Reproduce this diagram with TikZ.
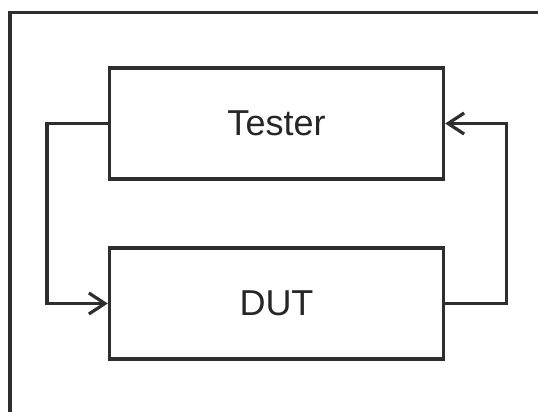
\documentclass[tikz,border=0pt]{standalone}
\usepackage{fontspec}
\setmainfont{Liberation Sans}
\usetikzlibrary{arrows.meta,positioning}

\begin{document}
\begin{tikzpicture}
  [x=1pt,y=-1pt,node distance=180pt,on grid,
  >={Straight Barb[length=16pt,width=21pt,line width=3.2pt]},
  wire/.style={draw=black!82,line width=3.4pt},
  block/.style={wire,rectangle,minimum width=334pt,minimum height=111pt,
    inner sep=0pt,text=black!85,font=\fontsize{36}{40}\selectfont}]
  \useasboundingbox (0,0) rectangle (538,412);

  % open frame, top and left edge only
  \coordinate (fr) at (538,12.5);
  \coordinate (fl) at (10,412);
  \draw [wire] (fr) -| (fl);

  \node [block] (tester) at (276.5,123.5) {Tester};
  \node [block] (dut) [below=of tester] {DUT};

  % loop back through both sides
  \draw [wire,->] (tester.west) -- ++(-61,0) |- (dut.west);
  \draw [wire,->] (dut.east) -- ++(61,0) |- (tester.east);
\end{tikzpicture}
\end{document}
